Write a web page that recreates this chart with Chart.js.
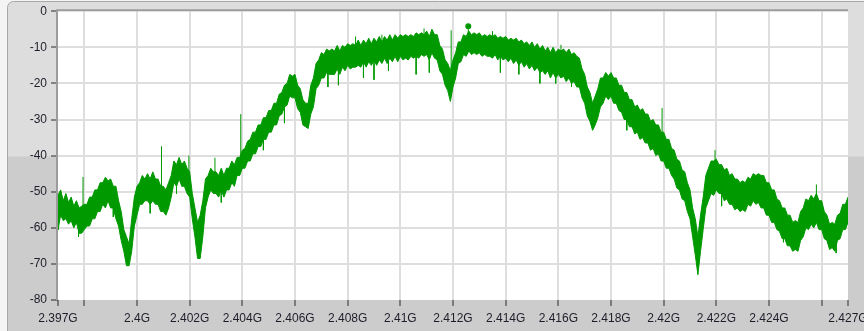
<!DOCTYPE html>
<html>
<head>
<meta charset="utf-8">
<script src="https://cdn.jsdelivr.net/npm/chart.js@4/dist/chart.umd.min.js"></script>
<style>
  html, body { margin: 0; padding: 0; background: #f4f4f4; }
  canvas { display: block; }
</style>
</head>
<body>
<canvas id="spectrum" width="864" height="331" style="width:864px;height:331px"></canvas>
<script>
// Frequency axis (MHz) and its labels
const startMHz = 2397;
const stepMHz = 0.1;
const tickMHz = [2397, 2398, 2400, 2402, 2404, 2406, 2408, 2410, 2412, 2414, 2416, 2418, 2420, 2422, 2424, 2426, 2427];
const tickLabels = ['2.397G', '', '2.4G', '2.402G', '2.404G', '2.406G', '2.408G', '2.41G', '2.412G', '2.414G', '2.416G', '2.418G', '2.42G', '2.422G', '2.424G', '', '2.427G'];
const levelTicks = [0, -10, -20, -30, -40, -50, -60, -70, -80];

// Upper edge of the measured trace (dB), one value every 0.1 MHz
const upper = [
  -51,-49.5,-52.5,-50.5,-53,-51.5,-54,-52.5,-54.5,-54,-53.5,
  -53.5,-51.5,-51.5,-49.5,-49.5,-47.5,-47.5,-46,-47,-46.5,
  -48.5,-48.5,-52.5,-55.5,-60.5,-62.5,-64.5,-57.5,-51.5,-48.5,
  -47.5,-45.5,-46.5,-45,-46.5,-44.5,-46.5,-46.5,-48.5,-48.5,
  -49.5,-47.5,-45.5,-41.5,-42.5,-40.5,-42.5,-41.5,-43.5,-44.5,
  -50.5,-54.5,-58.5,-56.5,-52.5,-46.5,-45.5,-43.5,-44.5,-44.5,
  -45.5,-43.5,-45.5,-43.5,-43.5,-41.5,-42.5,-40.5,-40.5,-38.5,
  -38,-36,-35.5,-33.5,-33.5,-31.5,-31.5,-29.5,-29.5,-27.5,
  -27.5,-25.5,-25.5,-23,-22.5,-20.5,-20,-17.5,-18,-17.5,
  -20.5,-21.5,-24.5,-25.5,-25.5,-20.5,-18.5,-14.5,-13.5,-11.5,
  -12,-10.5,-11,-10.5,-11,-9.5,-11,-9.5,-10,-9,
  -9.5,-9,-9.5,-8,-9.5,-8,-9,-7.5,-9,-7.5,
  -8.5,-7,-8.5,-7,-8,-6.5,-8,-6.5,-7.5,-6.5,
  -7,-6.5,-7,-6.5,-7,-6,-6.5,-6,-6.5,-5.5,
  -7,-5,-6.5,-6.5,-9.5,-10.5,-13.5,-14.5,-16.5,-13.5,
  -11.5,-8.5,-8.5,-6.5,-7,-5.5,-6.5,-6,-6.5,-6,
  -7,-6.5,-7,-6.5,-7,-6.5,-7.5,-7,-7.5,-7,
  -8,-7.5,-8,-7.5,-8.5,-8,-9,-8.5,-9.5,-8.5,
  -10,-9,-10.5,-9.5,-11,-10,-11.5,-10,-11.5,-10.5,
  -11,-10.5,-11.5,-10.5,-12,-11.5,-12.5,-13,-16,-17.5,
  -21,-22.5,-25.5,-23.5,-21.5,-18.5,-18.5,-17,-18,-17,
  -18.5,-18.5,-20.5,-20.5,-22.5,-22.5,-24.5,-24.5,-26.5,-26,
  -27.5,-27,-28.5,-28.5,-30.5,-30,-31.5,-31.5,-33.5,-33.5,
  -35.5,-35.5,-38,-38.5,-41,-41.5,-44,-44.5,-47.5,-49.5,
  -54.5,-57.5,-62.5,-56.5,-51.5,-45.5,-43.5,-41.5,-41.5,-41,
  -42.5,-42.5,-44,-43.5,-45.5,-45,-46.5,-46.5,-47.5,-47,
  -47.5,-46,-46.5,-45,-45.5,-45,-45.5,-45.5,-47.5,-47.5,
  -49.5,-49.5,-52,-52.5,-54.5,-54.5,-56.5,-56.5,-58.5,-58,
  -58.5,-55.5,-54.5,-52,-52.5,-51,-52,-50.5,-52.5,-52.5,
  -55.5,-56.5,-59,-58.5,-59,-56.5,-56,-53.5,-53.5,-51.5
];

// Lower edge of the measured trace (dB), same frequency grid
const lower = [
  -60.5,-56.5,-58,-57.5,-59,-58,-60,-58.5,-61.5,-61.5,-60.5,
  -59.5,-59.5,-57.5,-57.5,-55.5,-55.5,-53.5,-54.5,-52.5,-54.5,
  -54.5,-57.5,-59.5,-63.5,-66.5,-70.5,-70.5,-66.5,-59.5,-56.5,
  -53.5,-53.5,-52.5,-52.5,-53.5,-52.5,-53.5,-53.5,-55.5,-55.5,
  -56.5,-54.5,-51.5,-47.5,-48.5,-46.5,-48.5,-48.5,-50.5,-51.5,
  -57.5,-62.5,-68.5,-68.5,-62.5,-54.5,-51.5,-49.5,-50.5,-50.5,
  -51.5,-49.5,-51.5,-49.5,-49.5,-47.5,-48.5,-45.5,-45.5,-43.5,
  -43.5,-41.5,-41.5,-39.5,-39.5,-37.5,-37.5,-35.5,-35.5,-33.5,
  -33.5,-31.5,-31.5,-29,-28.5,-26.5,-26,-23.5,-24,-24,
  -27,-28,-31.5,-32,-32.5,-28.5,-26.5,-21.5,-20.5,-18.5,
  -18.5,-17,-17.5,-17.5,-17.5,-16,-17.5,-15.5,-16.5,-15,
  -16,-15.5,-15.5,-15,-15.5,-14,-15.5,-14,-15,-13.5,
  -15,-13.5,-14.5,-13,-14.5,-13,-14,-12.5,-14,-12.5,
  -13.5,-13,-13.5,-12.5,-13,-12.5,-13,-12,-12.5,-12,
  -13.5,-11.5,-13,-13.5,-16.5,-17.5,-20.5,-22,-25,-21,
  -18.5,-14.5,-14,-12,-12.5,-11,-12,-11.5,-12,-11.5,
  -12.5,-12,-12.5,-12.5,-13,-12,-13.5,-12.5,-13.5,-13,
  -14,-13,-14.5,-13.5,-15,-14,-15.5,-14.5,-16,-15,
  -16.5,-15.5,-17,-16.5,-17.5,-16.5,-18.5,-17,-18.5,-17.5,
  -18.5,-18,-19.5,-18.5,-20,-19.5,-21,-21,-24,-25.5,
  -29,-30.5,-33,-31.5,-29.5,-26.5,-25.5,-23.5,-24.5,-23.5,
  -25.5,-25.5,-27.5,-28,-30,-30,-32,-32,-34,-33.5,
  -35.5,-35,-36.5,-36.5,-38.5,-38,-40,-39.5,-41.5,-41.5,
  -43.5,-43.5,-45.5,-46.5,-49,-49.5,-52,-52.5,-55.5,-57.5,
  -62.5,-67.5,-73,-66.5,-60.5,-54.5,-52.5,-50.5,-51,-49.5,
  -50.5,-50.5,-52.5,-52,-53.5,-53.5,-55,-54.5,-55.5,-55,
  -55.5,-53.5,-54,-52.5,-53.5,-53,-54.5,-54.5,-56.5,-56.5,
  -58.5,-58.5,-60.5,-61,-63,-63,-65,-65,-66.5,-66,
  -66.5,-63.5,-62.5,-60,-60.5,-59,-60,-58.5,-60.5,-60.5,
  -63,-63.5,-66,-65.5,-66.5,-63.5,-63,-60.5,-60.5,-58.5
];

// Isolated single-bin excursions: frequency, start level, end level (dB)
const spikeMHz  = [2397.95, 2400.93, 2401.97, 2402.96, 2403.94, 2411.93, 2416.1, 2419.94, 2421.95, 2425.8,
                   2397.02, 2397.78, 2399.1, 2400.5, 2401.5, 2403.2, 2407.25, 2407.65, 2408.6, 2409.55,
                   2414.5, 2415.9, 2416.5, 2422.2, 2424.55, 2426.55, 2409.3, 2410.9, 2413.5,
                   2409.0, 2410.6, 2411.1, 2413.8, 2415.3, 2404.8, 2408.3, 2412.58, 2405.6, 2418.6];
const spikeFrom = [-55, -50, -46, -47, -42, -20, -14, -38, -45, -55,
                   -55, -58, -52, -50, -45, -48, -14, -14, -12, -11,
                   -11, -14, -15, -46, -57, -61, -10, -8, -9,
                   -13, -12, -12, -12, -14, -33, -10, -6.5, -26, -28];
const spikeTo   = [-45.9, -37.4, -40, -40.6, -28.5, -5.3, -9.3, -26.8, -38.5, -48,
                   -60.5, -62.5, -57, -56, -50.5, -53, -21, -20.5, -18.5, -16.5,
                   -17.5, -20, -21, -54, -64, -67, -6.5, -4.8, -5.5,
                   -19, -17.5, -17, -17, -20, -38.5, -7, -4.2, -31, -33];

// Peak marker
const markerMHz = [2412.58];
const markerLevel = [-4.2];

const traceColor = '#009900';

const freqAt = i => +(startMHz + i * stepMHz).toFixed(2);
const upperPts = upper.map((v, i) => ({ x: freqAt(i), y: v }));
const lowerPts = lower.map((v, i) => ({ x: freqAt(i), y: v }));
const spikePts = [];
spikeMHz.forEach((f, i) => {
  spikePts.push({ x: f, y: spikeFrom[i] }, { x: f, y: spikeTo[i] }, { x: f, y: null });
});
const markerPts = markerMHz.map((f, i) => ({ x: f, y: markerLevel[i] }));

// Panel background, plot face and the sunken plot border
const panelPlugin = {
  id: 'panel',
  beforeDraw(chart) {
    const { ctx, chartArea: a, width, height } = chart;
    ctx.save();
    ctx.fillStyle = '#f4f4f4';
    ctx.fillRect(0, 0, width, height);
    const g = ctx.createLinearGradient(0, 0, 0, height);
    g.addColorStop(0, '#dddddd');
    g.addColorStop(156 / height, '#dddddd');
    g.addColorStop(157 / height, '#cccccc');
    g.addColorStop(1, '#cccccc');
    ctx.beginPath();
    ctx.roundRect(7.5, 1.5, width + 20, height + 20, 6);
    ctx.fillStyle = g;
    ctx.fill();
    ctx.strokeStyle = '#a8a8a8';
    ctx.lineWidth = 1;
    ctx.stroke();
    ctx.fillStyle = '#ffffff';
    ctx.fillRect(a.left, a.top, a.right - a.left, a.bottom - a.top);
    ctx.restore();
  },
  afterDraw(chart) {
    const { ctx, chartArea: a } = chart;
    ctx.save();
    ctx.strokeStyle = '#9c9c9c';
    ctx.lineWidth = 2;
    ctx.beginPath();
    ctx.moveTo(a.left - 1, a.bottom);
    ctx.lineTo(a.left - 1, a.top - 1);
    ctx.lineTo(a.right, a.top - 1);
    ctx.stroke();
    ctx.restore();
  }
};

const edgeHidden = (ctx, n) => (ctx.index === 0 || ctx.index === n - 1) ? 'rgba(0,0,0,0)' : '#dedede';

new Chart(document.getElementById('spectrum'), {
  type: 'line',
  data: {
    datasets: [
      { data: upperPts, borderColor: traceColor, backgroundColor: traceColor, borderWidth: 1, pointRadius: 0, fill: false, order: 3 },
      { data: lowerPts, borderColor: traceColor, backgroundColor: traceColor, borderWidth: 1, pointRadius: 0, fill: '-1', order: 2 },
      { data: spikePts, borderColor: traceColor, borderWidth: 1, pointRadius: 0, spanGaps: false, fill: false, order: 1 },
      { data: markerPts, borderColor: traceColor, backgroundColor: traceColor, showLine: false, pointRadius: 3, pointBorderWidth: 0, order: 0 }
    ]
  },
  options: {
    responsive: false,
    animation: false,
    devicePixelRatio: 1,
    layout: { padding: { left: 0, top: 9, right: 16, bottom: 0 } },
    plugins: { legend: { display: false }, tooltip: { enabled: false } },
    elements: { line: { tension: 0 } },
    scales: {
      x: {
        type: 'linear',
        min: 2397,
        max: 2427,
        afterBuildTicks(scale) { scale.ticks = tickMHz.map(v => ({ value: v })); },
        afterFit(scale) { scale.height = 31; scale.paddingLeft = 0; scale.paddingRight = 0; },
        border: { display: false },
        grid: {
          color: ctx => edgeHidden(ctx, tickMHz.length),
          lineWidth: 2,
          drawTicks: true,
          tickLength: 6,
          tickColor: '#2a2a2a',
          tickWidth: 1
        },
        ticks: {
          autoSkip: false,
          maxRotation: 0,
          minRotation: 0,
          padding: 5,
          color: '#1e1e2a',
          font: { family: 'Liberation Sans', size: 12 },
          callback: (v, i) => tickLabels[i]
        }
      },
      y: {
        min: -80,
        max: 0,
        afterBuildTicks(scale) { scale.ticks = levelTicks.map(v => ({ value: v })); },
        afterFit(scale) { scale.width = 58; },
        border: { display: false },
        grid: {
          color: ctx => edgeHidden(ctx, levelTicks.length),
          lineWidth: 2,
          drawTicks: true,
          tickLength: 7,
          tickColor: '#2a2a2a',
          tickWidth: 1
        },
        ticks: {
          padding: 4,
          color: '#1e1e2a',
          font: { family: 'Liberation Sans', size: 12 },
          callback: v => String(v)
        }
      }
    }
  },
  plugins: [panelPlugin]
});
</script>
</body>
</html>
